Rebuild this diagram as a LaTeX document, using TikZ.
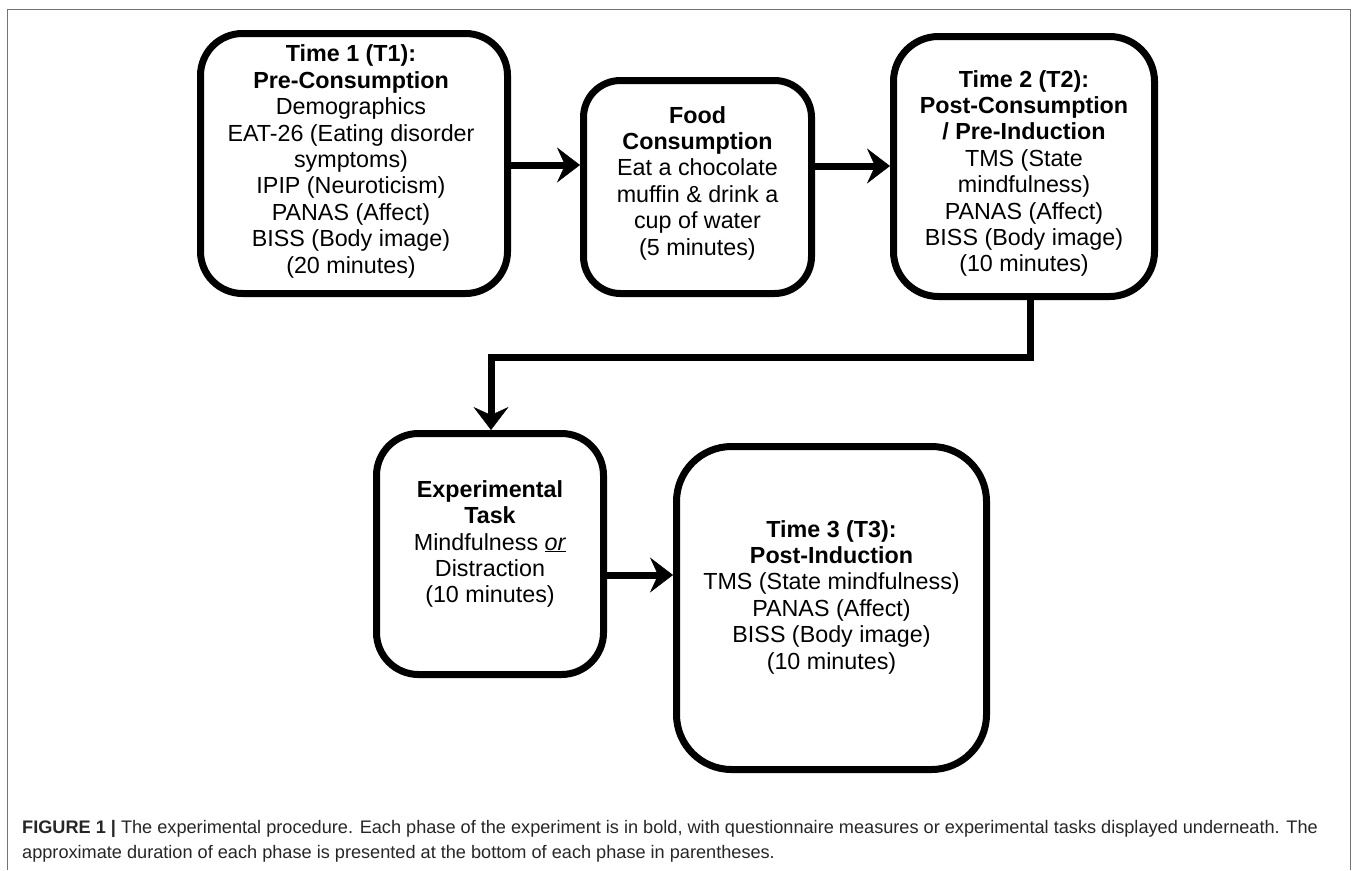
\documentclass[tikz,border=0pt]{standalone}
\usepackage{fontspec}
\setmainfont{Liberation Sans}
\usetikzlibrary{arrows.meta}
\begin{document}
\begin{tikzpicture}[x=1pt,y=-1pt,
  box/.style={draw=black,line width=7pt,rectangle,inner sep=0pt},
  txt/.style={align=center,inner sep=0pt,font=\fontsize{23.3}{26.4}\selectfont},
  conn/.style={line width=7pt,-{Stealth[length=23pt,width=35pt,inset=8pt,line width=0.5pt]}}]
\useasboundingbox (0,0) rectangle (1357,870);
\draw[black!55,line width=1.2pt] (7.5,870) -- (7.5,9.5) -- (1350.5,9.5) -- (1350.5,870);

% boxes
\node[box,minimum width=307pt,minimum height=260pt,rounded corners=42pt] (t1) at (354,163.5) {};
\node[box,minimum width=228pt,minimum height=213pt,rounded corners=37pt] (food) at (697.5,187) {};
\node[box,minimum width=261pt,minimum height=260pt,rounded corners=45pt] (t2) at (1024,166.5) {};
\node[box,minimum width=227pt,minimum height=241pt,rounded corners=42pt] (exp) at (490,554) {};
\node[box,minimum width=310pt,minimum height=323pt,rounded corners=55pt] (t3) at (831.5,608) {};

% texts
\node[txt] (t1t) at (351,161.5) {\textbf{Time 1 (T1):}\\\textbf{Pre-Consumption}\\Demographics\\EAT-26 (Eating disorder\\symptoms)\\IPIP (Neuroticism)\\PANAS (Affect)\\BISS (Body image)\\(20 minutes)};
\node[txt] (foodt) at (697.5,183) {\textbf{Food}\\\textbf{Consumption}\\Eat a chocolate\\muffin \& drink a\\cup of water\\(5 minutes)};
\node[txt] (t2t) at (1024,173.5) {\textbf{Time 2 (T2):}\\\textbf{Post-Consumption}\\\textbf{/ Pre-Induction}\\TMS (State\\mindfulness)\\PANAS (Affect)\\BISS (Body image)\\(10 minutes)};
\node[txt] (expt) at (490,544) {\textbf{Experimental}\\\textbf{Task}\\Mindfulness \underline{\textit{or}}\\Distraction\\(10 minutes)};
\node[txt] (t3t) at (831.5,597) {\textbf{Time 3 (T3):}\\\textbf{Post-Induction}\\TMS (State mindfulness)\\PANAS (Affect)\\BISS (Body image)\\(10 minutes)};

% connectors
\coordinate (a1) at (545,165);
\coordinate (a2) at (852,166);
\coordinate (a3) at (640,575);
\coordinate (b1) at (1030,357);
\coordinate (b2) at (491,357);
\draw[conn] (t1.east |- a1) -- (food.west |- a1);
\draw[conn] (food.east |- a2) -- (t2.west |- a2);
\draw[conn] (t2.south -| b1) -- (b1) -- (b2) -- (exp.north -| b2);
\draw[conn] (exp.east |- a3) -- (t3.west |- a3);

% caption
\node[anchor=west,align=left,inner sep=0pt,font=\fontsize{18.15}{25}\selectfont,text=black!85] (cap) at (22,841.5) {\textbf{FIGURE 1 |} The experimental procedure. Each phase of the experiment is in bold, with questionnaire measures or experimental tasks displayed underneath. The\\approximate duration of each phase is presented at the bottom of each phase in parentheses.};
\end{tikzpicture}
\end{document}
